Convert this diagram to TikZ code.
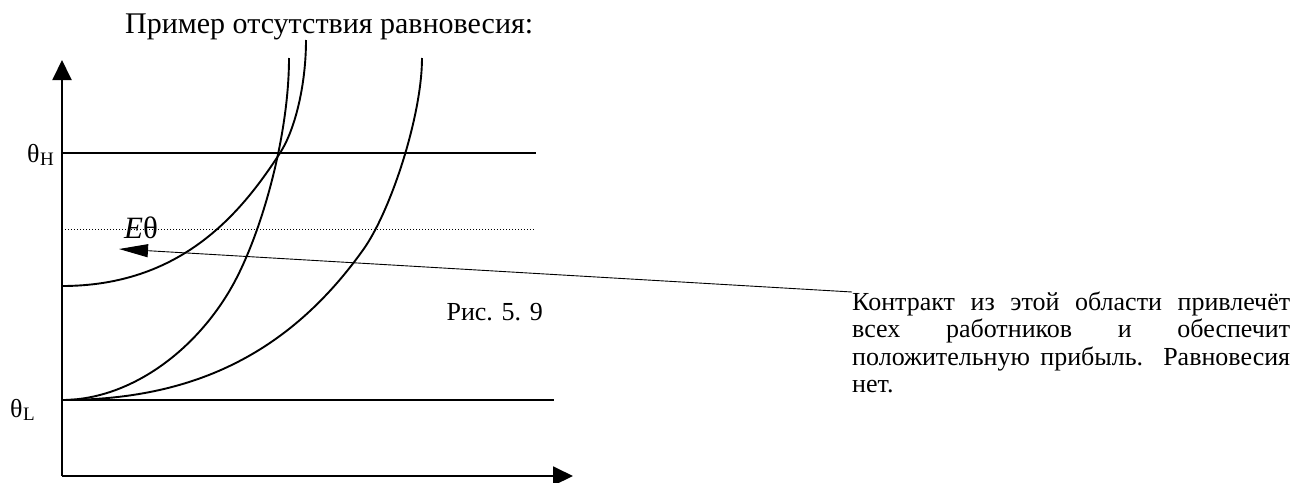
\documentclass[tikz,border=0pt]{standalone}
\usepackage{fontspec}
\setmainfont{Liberation Serif}
\usetikzlibrary{arrows.meta}
\begin{document}
\begin{tikzpicture}[x=1pt,y=-1pt,
  thick line/.style={line width=1.9pt},
  dotline/.style={line width=1pt, dash pattern=on 1pt off 2pt},
  pointer/.style={line width=0.9pt, -{Triangle[length=29pt,width=13pt]}},
  axisarrow/.style={thick line, -{Triangle[length=20pt,width=19pt]}},
  txt/.style={font=\fontsize{26}{27.5}\selectfont, inner sep=0pt},
  big/.style={font=\fontsize{30}{32}\selectfont, inner sep=0pt},
  sub/.style={font=\fontsize{19}{19}\selectfont, inner sep=0pt}]
\useasboundingbox (0,0) rectangle (1297,482);

% axes
\coordinate (O) at (62,476);
\coordinate (ytop) at (62,60);
\coordinate (xend) at (573,476);
\draw[axisarrow] (O) -- (ytop);
\draw[axisarrow] (O) -- (xend);

% levels theta_H, E theta, theta_L
\draw[thick line] (62,153) -- (536,153);
\draw[dotline] (62,229) -- (535,229);
\draw[thick line] (62,400) -- (554,400);

% indifference curves
\draw[thick line] (62,286) .. controls (180,286) and (240,215) .. (280,153)
                  .. controls (295,130) and (306,85) .. (306,40);
\draw[thick line] (62,400) .. controls (127,400) and (192,354.6) .. (230,290)
                  .. controls (260,239) and (289,138) .. (289,58);
\draw[thick line] (62,400) .. controls (182,400) and (283,362) .. (363,250)
                  .. controls (391,211) and (422,115) .. (422,58);

% labels
\node[big, anchor=base west] (title) at (125,33) {Пример отсутствия равновесия:};
\node[txt, anchor=base west] (thH) at (27,162) {θ};
\node[sub, anchor=base west] (thHs) at (thH.base east) [yshift=-3pt] {H};
\node[txt, anchor=base west] (thL) at (10,417) {θ};
\node[sub, anchor=base west] (thLs) at (thL.base east) [yshift=-3pt] {L};
\node[font=\fontsize{31}{31}\selectfont, inner sep=0pt, anchor=base west] (Eth)
  at (124,238) {\textit{E}θ};
\node[txt, anchor=base east] (fig) at (543,320) {Рис. 5. 9};

% note and its pointer
\node[txt, anchor=base west, align=left] (note) at (852,392.5)
  {\makebox[438pt][s]{Контракт из этой области привлечёт}\\
   \makebox[438pt][s]{всех работников и обеспечит}\\
   \makebox[438pt][s]{положительную прибыль. Равновесия}\\
   нет.};
\coordinate (tail) at (852,292);
\coordinate (tip) at (119,249);
\draw[pointer] (tail) -- (tip);
\end{tikzpicture}
\end{document}
